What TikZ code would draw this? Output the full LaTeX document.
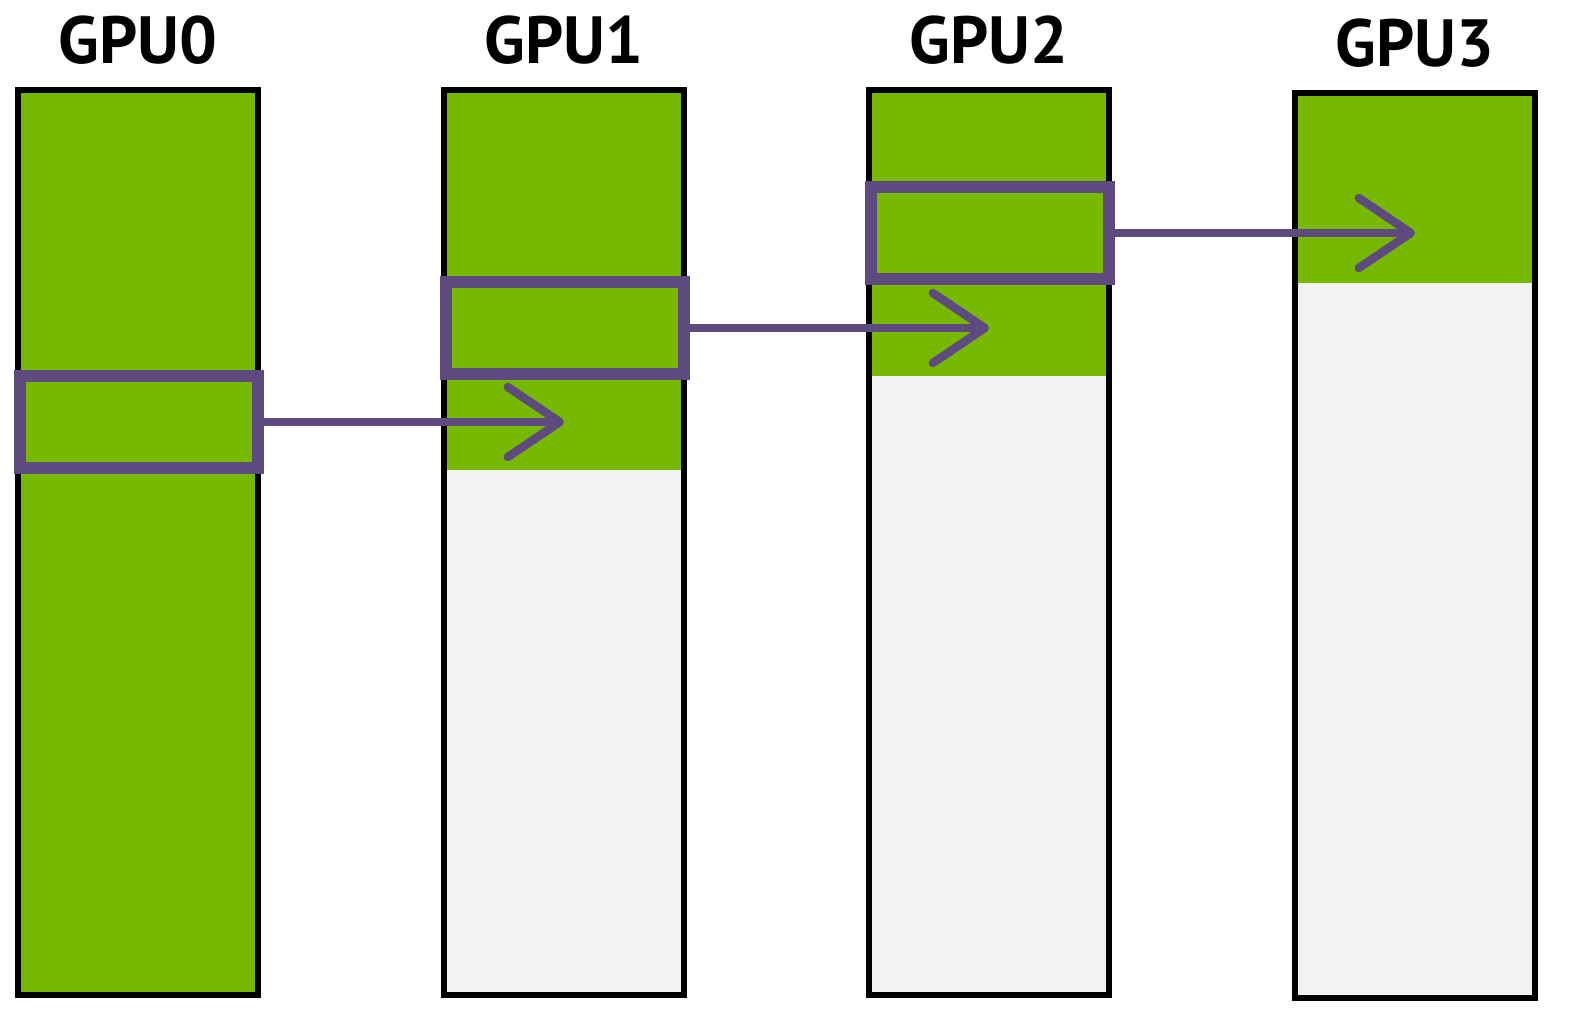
\documentclass[tikz,border=0pt]{standalone}
\usepackage{fontspec}
\setmainfont{PT Sans}
\usetikzlibrary{arrows.meta}
\definecolor{nvgreen}{HTML}{76B900}
\definecolor{memgray}{HTML}{F2F2F2}
\definecolor{chunkpurple}{HTML}{5E4A7E}
\tikzset{
  gpucol/.style={draw=black,line width=1.9pt},
  chunk/.style={draw=chunkpurple,line width=3.4pt,minimum width=2.38cm,minimum height=0.92cm,inner sep=0pt},
  send/.style={draw=chunkpurple,line width=2.4pt,-{Straight Barb[length=5.2mm,width=7mm,round]}},
  gpulabel/.style={font=\fontsize{19}{22}\selectfont\bfseries}
}
\begin{document}
\begin{tikzpicture}
    % Fix canvas to reference size
    \useasboundingbox (0,0) rectangle (15.74,10.24);
    % Draw GPU memory columns: x position, top of column, bottom of green part
    \foreach \i/\x/\top/\gr in {0/0.18/9.34/0.29,1/4.44/9.34/5.54,2/8.69/9.34/6.48,3/12.95/9.31/7.41}{
        \fill[memgray] (\x,\top-9.05) rectangle (\x+2.4,\top);
        \fill[nvgreen] (\x,\gr) rectangle (\x+2.4,\top);
        \draw[gpucol] (\x,\top-9.05) rectangle (\x+2.4,\top);
        \node[gpulabel] (gpu\i) at (\x+1.2,\top+0.5) {GPU\i};
        \coordinate (mid\i) at (\x+1.2,0);
    }
    % Draw chunks being passed along
    \node[chunk] (c0) at (1.39,6.02) {};
    \node[chunk] (c1) at (5.65,6.96) {};
    \node[chunk] (c2) at (9.9,7.91) {};
    % Draw arrows
    \draw[send] (c0.east) -- (c0.east -| mid1);
    \draw[send] (c1.east) -- (c1.east -| mid2);
    \draw[send] (c2.east) -- (c2.east -| mid3);
\end{tikzpicture}
\end{document}
